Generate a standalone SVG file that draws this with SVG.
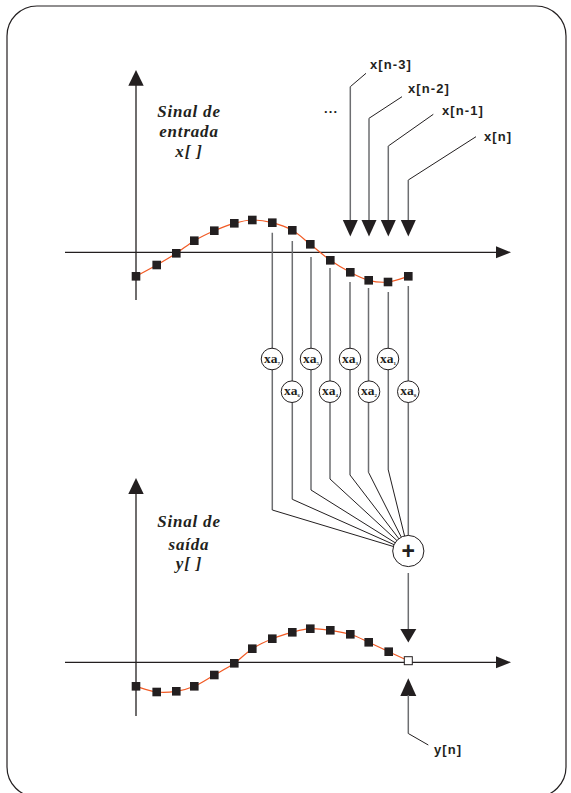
<svg xmlns="http://www.w3.org/2000/svg" xmlns:xlink="http://www.w3.org/1999/xlink" width="571" height="793" viewBox="0 0 571 793">
<style>
.axis{stroke:#231f20;stroke-width:1.3;fill:none}
.head{fill:#231f20;stroke:none}
.vline{stroke:#6d6e71;stroke-width:1.5;fill:none}
.dline{stroke:#231f20;stroke-width:1;fill:none}
.curve{stroke:#f15a24;stroke-width:1.2;fill:none}
.pt{fill:#231f20}
.mul{fill:#fff;stroke:#231f20;stroke-width:1}
.mt{font-family:"Liberation Serif",serif;font-weight:bold;font-size:13.5px;fill:#231f20}
.sub{font-size:5px}
.lbl{font-family:"Liberation Sans",Arial,sans-serif;font-weight:bold;font-size:13px;letter-spacing:1.1px;fill:#231f20}
.title{font-family:"Liberation Serif",serif;font-weight:bold;font-style:italic;font-size:17px;letter-spacing:0.8px;fill:#231f20;text-anchor:middle}
</style>
<defs>
<rect id="sq" x="-4.3" y="-4.3" width="8.6" height="8.6"/>
</defs>
<rect x="7" y="6" width="559" height="791" rx="30" ry="30" fill="#fff" stroke="#231f20" stroke-width="1.2"/>

<g id="input-plot">
<line class="axis" x1="65" y1="252.3" x2="498" y2="252.3"/>
<polygon class="head" points="496,246.3 511,252.3 496,258.3"/>
<line class="axis" x1="136" y1="300" x2="136" y2="84"/>
<polygon class="head" points="128.3,85.7 143.7,85.7 136,70"/>
<text class="title" x="189" y="116.7">Sinal de</text>
<text class="title" x="189" y="136.7">entrada</text>
<text class="title" x="189" y="156.7">x[ ]</text>
<path class="curve" d="M136,276.3 C139.45,274.42 149.98,268.83 156.7,265 C163.42,261.17 170.03,257.35 176.3,253.3 C182.57,249.25 187.97,244.47 194.3,240.7 C200.63,236.93 207.63,233.6 214.3,230.7 C220.97,227.8 227.970,225.08 234.3,223.3 C240.63,221.52 245.97,220.1 252.3,220 C258.63,219.9 265.63,220.98 272.3,222.7 C278.97,224.42 285.97,226.7 292.3,230.3 C298.63,233.9 303.97,239.3 310.3,244.3 C316.63,249.3 323.63,255.63 330.3,260.3 C336.97,264.97 343.9,268.97 350.3,272.3 C356.7,275.63 362.42,278.68 368.7,280.3 C374.98,281.92 381.4,282.67 388,282 C394.6,281.33 404.92,277.25 408.3,276.3"/>
<g class="pt">
<use xlink:href="#sq" x="136" y="276.3"/>
<use xlink:href="#sq" x="156.7" y="265"/>
<use xlink:href="#sq" x="176.3" y="253.3"/>
<use xlink:href="#sq" x="194.3" y="240.7"/>
<use xlink:href="#sq" x="214.3" y="230.7"/>
<use xlink:href="#sq" x="234.3" y="223.3"/>
<use xlink:href="#sq" x="252.3" y="220"/>
<use xlink:href="#sq" x="272.3" y="222.7"/>
<use xlink:href="#sq" x="292.3" y="230.3"/>
<use xlink:href="#sq" x="310.3" y="244.3"/>
<use xlink:href="#sq" x="330.3" y="260.3"/>
<use xlink:href="#sq" x="350.3" y="272.3"/>
<use xlink:href="#sq" x="368.7" y="280.3"/>
<use xlink:href="#sq" x="388" y="282"/>
<use xlink:href="#sq" x="408.3" y="276.3"/>
</g>
</g>

<g id="input-labels">
<text class="lbl" x="370" y="69.3">x[n-3]</text>
<text class="lbl" x="408" y="93.3">x[n-2]</text>
<text class="lbl" x="442" y="115">x[n-1]</text>
<text class="lbl" x="484" y="140.7">x[n]</text>
<text class="lbl" x="324" y="113.3" letter-spacing="0">...</text>
</g>

<g id="connectors">
<polyline class="dline" points="366,73.3 350.3,86.7"/>
<line class="vline" x1="350.3" y1="86.7" x2="350.3" y2="221"/>
<polyline class="dline" points="402,96.7 369,118.3"/>
<line class="vline" x1="369" y1="118.3" x2="369" y2="221"/>
<polyline class="dline" points="433.3,114.3 388.3,146"/>
<line class="vline" x1="388.3" y1="146" x2="388.3" y2="221"/>
<polyline class="dline" points="476,136.7 408.3,180"/>
<line class="vline" x1="408.3" y1="180" x2="408.3" y2="221"/>
<polygon class="head" points="342.8,220 357.8,220 350.3,236.5"/>
<polygon class="head" points="361.5,220 376.5,220 369,236.5"/>
<polygon class="head" points="380.8,220 395.8,220 388.3,236.5"/>
<polygon class="head" points="400.8,220 415.8,220 408.3,236.5"/>

<line class="vline" x1="272.3" y1="232.7" x2="272.3" y2="510"/>
<line class="dline" x1="272.3" y1="510" x2="408.3" y2="551"/>
<line class="vline" x1="292.3" y1="241" x2="292.3" y2="499.3"/>
<line class="dline" x1="292.3" y1="499.3" x2="408.3" y2="551"/>
<line class="vline" x1="311" y1="257" x2="311" y2="490"/>
<line class="dline" x1="311" y1="490" x2="408.3" y2="551"/>
<line class="vline" x1="330" y1="268" x2="330" y2="479"/>
<line class="dline" x1="330" y1="479" x2="408.3" y2="551"/>
<line class="vline" x1="350" y1="282" x2="350" y2="475"/>
<line class="dline" x1="350" y1="475" x2="408.3" y2="551"/>
<line class="vline" x1="368.5" y1="288" x2="368.5" y2="472.3"/>
<line class="dline" x1="368.5" y1="472.3" x2="408.3" y2="551"/>
<line class="vline" x1="388.3" y1="292" x2="388.3" y2="470"/>
<line class="dline" x1="388.3" y1="470" x2="408.3" y2="551"/>
<line class="vline" x1="408.3" y1="286" x2="408.3" y2="540"/>

<line class="vline" x1="408.3" y1="573" x2="408.3" y2="630"/>
<polygon class="head" points="400.3,629 416.3,629 408.3,642.5"/>
<polygon class="head" points="400.3,696 416.3,696 408.3,678.3"/>
<line class="vline" x1="408.3" y1="695" x2="408.3" y2="733.5"/>
<polyline class="dline" points="408.3,733.5 428.3,745"/>
</g>

<g id="mul7"><circle class="mul" cx="272" cy="359" r="10.8"/><text class="mt" x="264" y="362.5">xa<tspan class="sub" dy="2">7</tspan></text></g>
<g id="mul5"><circle class="mul" cx="311" cy="359" r="10.8"/><text class="mt" x="303" y="362.5">xa<tspan class="sub" dy="2">5</tspan></text></g>
<g id="mul3"><circle class="mul" cx="350" cy="359" r="10.8"/><text class="mt" x="342" y="362.5">xa<tspan class="sub" dy="2">3</tspan></text></g>
<g id="mul1"><circle class="mul" cx="388" cy="359" r="10.8"/><text class="mt" x="380" y="362.5">xa<tspan class="sub" dy="2">1</tspan></text></g>
<g id="mul6"><circle class="mul" cx="292" cy="391.7" r="10.8"/><text class="mt" x="284" y="395.2">xa<tspan class="sub" dy="2">6</tspan></text></g>
<g id="mul4"><circle class="mul" cx="330" cy="391.7" r="10.8"/><text class="mt" x="322" y="395.2">xa<tspan class="sub" dy="2">4</tspan></text></g>
<g id="mul2"><circle class="mul" cx="369" cy="391.7" r="10.8"/><text class="mt" x="361" y="395.2">xa<tspan class="sub" dy="2">2</tspan></text></g>
<g id="mul0"><circle class="mul" cx="408.3" cy="391.7" r="10.8"/><text class="mt" x="400.3" y="395.2">xa<tspan class="sub" dy="2">0</tspan></text></g>

<g id="sum">
<circle cx="408.3" cy="551" r="15.6" fill="#fff" stroke="#231f20" stroke-width="1"/>
<text x="408.3" y="559" font-family="Liberation Sans,Arial,sans-serif" font-weight="bold" font-size="23" text-anchor="middle" fill="#231f20">+</text>
</g>

<g id="output-plot">
<line class="axis" x1="65" y1="662.3" x2="498" y2="662.3"/>
<polygon class="head" points="496,656.3 511,662.3 496,668.3"/>
<line class="axis" x1="136" y1="716" x2="136" y2="492"/>
<polygon class="head" points="128.3,494 143.7,494 136,478"/>
<text class="title" x="189" y="526.5">Sinal de</text>
<text class="title" x="189" y="549.5">saída</text>
<text class="title" x="189" y="569">y[ ]</text>
<path class="curve" d="M136,686.3 C139.45,687.25 149.98,691.17 156.7,692 C163.42,692.83 170.03,692.25 176.3,691.3 C182.57,690.35 187.97,689.02 194.3,686.3 C200.63,683.58 207.63,678.83 214.3,675 C220.97,671.17 227.97,667.68 234.3,663.3 C240.63,658.92 245.97,652.8 252.3,648.7 C258.63,644.6 265.63,641.43 272.3,638.7 C278.97,635.97 285.97,633.97 292.3,632.3 C298.63,630.63 303.97,629.03 310.3,628.7 C316.63,628.37 323.63,629.37 330.3,630.3 C336.97,631.23 343.9,632.3 350.3,634.3 C356.7,636.3 362.3,639.4 368.7,642.3 C375.1,645.2 382.1,648.63 388.7,651.7 C395.3,654.77 405.03,659.2 408.3,660.7"/>
<g class="pt">
<use xlink:href="#sq" x="136" y="686.3"/>
<use xlink:href="#sq" x="156.7" y="692"/>
<use xlink:href="#sq" x="176.3" y="691.3"/>
<use xlink:href="#sq" x="194.3" y="686.3"/>
<use xlink:href="#sq" x="214.3" y="675"/>
<use xlink:href="#sq" x="234.3" y="663.3"/>
<use xlink:href="#sq" x="252.3" y="648.7"/>
<use xlink:href="#sq" x="272.3" y="638.7"/>
<use xlink:href="#sq" x="292.3" y="632.3"/>
<use xlink:href="#sq" x="310.3" y="628.7"/>
<use xlink:href="#sq" x="330.3" y="630.3"/>
<use xlink:href="#sq" x="350.3" y="634.3"/>
<use xlink:href="#sq" x="368.7" y="642.3"/>
<use xlink:href="#sq" x="388.7" y="651.7"/>
</g>
<rect x="404.3" y="656.7" width="8" height="8" fill="#fff" stroke="#231f20" stroke-width="1"/>
<text class="lbl" x="434" y="754">y[n]</text>
</g>
</svg>
